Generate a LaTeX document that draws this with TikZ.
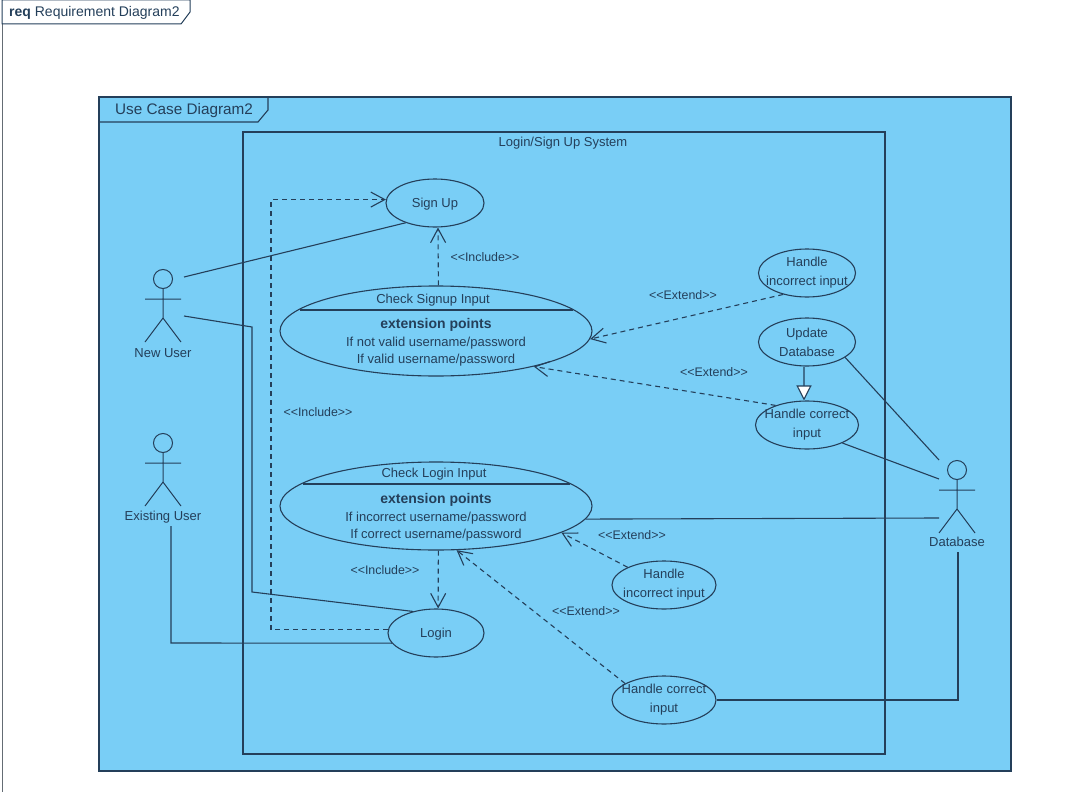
\documentclass[tikz,border=0pt]{standalone}
\usepackage{fontspec}
\setmainfont{Liberation Sans}
\usetikzlibrary{arrows.meta,shapes.geometric}
\definecolor{fond}{HTML}{79CEF6}
\definecolor{trait}{HTML}{243F5A}
\tikzstyle{asso} = [trait,line width=1.1pt]
\tikzstyle{fleche} = [trait,line width=1.1pt,dashed,dash pattern=on 5pt off 4pt,-{Straight Barb[length=14pt,width=15pt,line width=1.1pt]}]
\tikzstyle{herit} = [trait,line width=1.1pt,-{Triangle[open,length=15pt,width=15pt,fill=white]}]
\tikzstyle{cas} = [draw=trait,ellipse,line width=1.1pt,inner xsep=-30pt,inner ysep=-16pt,align=center,font=\fontsize{13}{19}\selectfont,text=trait,execute at begin node={\rule{0pt}{12.5pt}}]
\tikzstyle{txt} = [text=trait,font=\fontsize{13}{19}\selectfont,align=center,inner sep=0pt]
\tikzstyle{lien} = [text=trait,font=\fontsize{12.4}{15}\selectfont,inner sep=0pt]
\newcommand{\acteur}[5]{% name, x, y of head, label, label offset
	\draw[trait,line width=1pt] (#2,#3) circle [radius=9.5pt];
	\draw[trait,line width=1pt] (#2,#3+9.5) -- (#2,#3+39) (#2-18,#3+20) -- (#2+18,#3+20)
		(#2-18,#3+63) -- (#2,#3+39) -- (#2+18,#3+63);
	\node[txt] (#1) at (#2,#3+#5) {#4};
}

\begin{document}
\begin{tikzpicture}[x=1pt,y=-1pt]
	\useasboundingbox (0,0) rectangle (1066,792);

	% outer frame
	\draw[line width=1pt,draw=gray!70!trait] (2,792) -- (2,24);
	\draw[trait,line width=1pt] (2,24) -- (2,0) -- (190,0) -- (190,12) -- (181,24) -- cycle;
	\node[txt,anchor=west,font=\fontsize{14}{16}\selectfont] (REQ) at (9,12.5) {\textbf{req} Requirement Diagram2};

	% use case frame
	\draw[trait,line width=1.1pt,fill=fond] (99,97) rectangle (1011,771);
	\draw[trait,line width=1.1pt] (99,122) -- (258,122) -- (268,110) -- (268,97);
	\node[txt,anchor=west,font=\fontsize{15.3}{16}\selectfont] (UC) at (115,110.5) {Use Case Diagram2};

	\draw[trait,line width=1.1pt] (243,132) rectangle (885,754);
	\node[txt] (SYS) at (563,143) {Login/Sign Up System};

	% use cases
	\node[cas,minimum width=98pt,minimum height=48pt] (SU) at (435,203) {Sign Up};
	\node[cas,minimum width=96pt,minimum height=48pt] (LG) at (436,633) {Login};
	\node[cas,minimum width=97pt,minimum height=48pt] (HI1) at (807,273) {Handle\\incorrect input};
	\node[cas,minimum width=97pt,minimum height=48pt] (UD) at (807,342) {Update\\Database};
	\node[cas,minimum width=103pt,minimum height=48pt] (HC1) at (807,425) {Handle correct\\input};
	\node[cas,minimum width=104pt,minimum height=48pt] (HI2) at (664,585) {Handle\\incorrect input};
	\node[cas,minimum width=104pt,minimum height=48pt] (HC2) at (664,700) {Handle correct\\input};

	\node[cas,minimum width=312pt,minimum height=90pt] (CS) at (436,331) {};
	\coordinate (CS1) at (300,310);
	\coordinate (CS2) at (573,310);
	\draw[asso] (CS1) -- (CS2);
	\node[txt] (CS3) at (433,300) {Check Signup Input};
	\node[txt] (CS4) at (436,342.5) {\textbf{\fontsize{14}{19}\selectfont extension points}\\[-1pt]If not valid username/password\\[-2pt]If valid username/password};

	\node[cas,minimum width=312pt,minimum height=88pt] (CL) at (436,506) {};
	\coordinate (CL1) at (303,484);
	\coordinate (CL2) at (570,484);
	\draw[asso] (CL1) -- (CL2);
	\node[txt] (CL3) at (434,474) {Check Login Input};
	\node[txt] (CL4) at (436,517) {\textbf{\fontsize{14}{19}\selectfont extension points}\\[-1pt]If incorrect username/password\\[-2pt]If correct username/password};

	% actors
	\acteur{NU}{163}{279}{New User}{74}
	\acteur{EU}{163}{443}{Existing User}{74}
	\acteur{DB}{957}{470}{Database}{72}

	\coordinate (NU1) at (184,277);
	\coordinate (NU2) at (184,316);
	\coordinate (NU3) at (252,327);
	\coordinate (NU4) at (252,592);
	\coordinate (EU1) at (171,526);
	\coordinate (EU2) at (171,643);
	\coordinate (DB1) at (939,460);
	\coordinate (DB2) at (939,479);
	\coordinate (DB3) at (939,518);
	\coordinate (DB4) at (958,552);
	\coordinate (DB5) at (958,700);
	\coordinate (BK) at (271,400);

	% associations
	\draw[asso] (NU1) -- (SU.214);
	\draw[asso] (NU2) -- (NU3) -- (NU4) -- (LG.137);
	\draw[asso] (EU1) -- (EU2) -- (LG.193);
	\draw[asso] (UD.-22) -- (DB1);
	\draw[asso] (HC1.-27) -- (DB2);
	\draw[asso] (CL.-5) -- (DB3);
	\draw[asso] (HC2.east) -- (DB5) -- (DB4);
	\draw[herit] (UD.-97) -- (HC1.97);

	% include and extend
	\draw[fleche] (CS.87.4) -- (SU.-83);
	\draw[fleche] (CL.-87.4) -- (LG.85);
	\draw[fleche] (LG.176) -| (BK) |- (SU.176);
	\draw[fleche] (HI1.222) -- (CS.-3.3);
	\draw[fleche] (HC1.148) -- (CS.-20.6);
	\draw[fleche] (HI2.154) -- (CL.-12.5);
	\draw[fleche] (HC2.157) -- (CL.-65);

	\node[lien] (L1) at (485,257) {<{}<Include>{}>};
	\node[lien] (L2) at (683,295) {<{}<Extend>{}>};
	\node[lien] (L3) at (714,372) {<{}<Extend>{}>};
	\node[lien] (L4) at (318,412) {<{}<Include>{}>};
	\node[lien] (L5) at (632,535) {<{}<Extend>{}>};
	\node[lien] (L6) at (385,570) {<{}<Include>{}>};
	\node[lien] (L7) at (586,611) {<{}<Extend>{}>};
\end{tikzpicture}
\end{document}
